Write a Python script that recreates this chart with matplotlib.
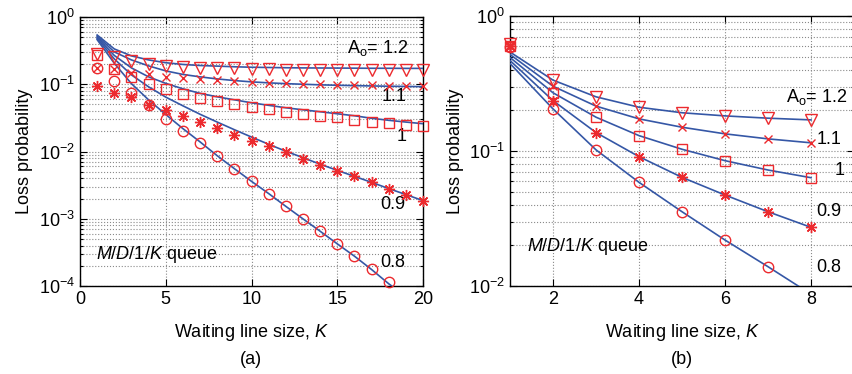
import numpy as np
import matplotlib
matplotlib.use("Agg")
import matplotlib.pyplot as plt
from matplotlib.ticker import LogLocator, LogFormatterMathtext, NullFormatter

plt.rcParams['font.family'] = ['Liberation Sans', 'DejaVu Sans']
plt.rcParams['mathtext.fontset'] = 'custom'
plt.rcParams['mathtext.rm'] = 'Liberation Sans'
plt.rcParams['mathtext.it'] = 'Liberation Sans:italic'
plt.rcParams['mathtext.bf'] = 'Liberation Sans:bold'

# ---------------- Panel (a) data: K = 1..20 ----------------
K_a = list(range(1, 21))
loads = ["1.2", "1.1", "1", "0.9", "0.8"]

# analytic curves (blue lines)
line_a_12 = [0.54, 0.335, 0.264, 0.230, 0.209, 0.197, 0.190, 0.186, 0.182, 0.179,
             0.1775, 0.176, 0.175, 0.1745, 0.174, 0.1734, 0.1728, 0.1728, 0.1722, 0.1722]
line_a_11 = [0.52, 0.3025, 0.230, 0.1875, 0.158, 0.140, 0.1288, 0.120, 0.1135, 0.1085,
             0.1049, 0.1021, 0.100, 0.098, 0.0966, 0.0953, 0.0944, 0.0934, 0.0928, 0.0921]
line_a_10 = [0.50, 0.268, 0.175, 0.1288, 0.1031, 0.0855, 0.0733, 0.065, 0.0587, 0.053,
             0.0486, 0.0447, 0.0417, 0.039, 0.0364, 0.034, 0.0312, 0.0291, 0.0274, 0.0259]
line_a_09 = [0.48, 0.238, 0.1378, 0.0915, 0.0644, 0.0478, 0.0358, 0.0274, 0.0211, 0.0164,
             0.0128, 0.0101, 0.0081, 0.00648, 0.00524, 0.00427, 0.00348, 0.00281, 0.00229, 0.00186]
line_a_08 = [0.46, 0.205, 0.102, 0.0586, 0.0355, 0.0219, 0.0139, 0.00866, 0.00556, 0.0036,
             0.00237, 0.00153, 0.000997, 0.000653, 0.000424, 0.000278, 0.000176, 0.000108, 0.00007, 0.000046]

# simulation points (red markers)
sim_a_12 = [0.278, 0.258, 0.222, 0.201, 0.189, 0.183, 0.177, 0.173, 0.173, 0.169,
            0.166, 0.165, 0.165, 0.164, 0.164, 0.164, 0.164, 0.164, 0.163, 0.163]
sim_a_11 = [0.173, 0.1675, 0.1476, 0.1412, 0.130, 0.1233, 0.119, 0.1162, 0.1123, 0.1086,
            0.106, 0.1038, 0.1014, 0.1014, 0.098, 0.098, 0.097, 0.0956, 0.0947, 0.0947]
sim_a_10 = [0.273, 0.1675, 0.1274, 0.1003, 0.0855, 0.0713, 0.0635, 0.0567, 0.0507, 0.0462,
            0.0427, 0.0386, 0.0355, 0.0336, 0.0321, 0.0296, 0.0277, 0.0261, 0.0247, 0.0236]
sim_a_09 = [0.0947, 0.0753, 0.0639, 0.0486, 0.0417, 0.0343, 0.0274, 0.0223, 0.01776, 0.01446,
            0.01191, 0.0097, 0.00782, 0.00637, 0.00519, 0.00427, 0.00348, 0.00278, 0.00229, 0.00186]
K_a_08 = list(range(1, 19))
sim_a_08 = [0.173, 0.1123, 0.0753, 0.0486, 0.0307, 0.02035, 0.01337, 0.00866, 0.00556, 0.0036,
            0.002365, 0.001533, 0.000997, 0.000653, 0.000424, 0.000278, 0.000176, 0.000114]

# ---------------- Panel (b) data: K = 1..8 ----------------
K_b = list(range(1, 9))
line_b_12 = [0.541, 0.335, 0.252, 0.211, 0.192, 0.182, 0.175, 0.170]
line_b_11 = [0.519, 0.302, 0.215, 0.173, 0.150, 0.134, 0.123, 0.115]
line_b_10 = [0.493, 0.270, 0.178, 0.130, 0.103, 0.0848, 0.0723, 0.0634]
line_b_09 = [0.468, 0.236, 0.137, 0.0908, 0.0638, 0.0472, 0.0355, 0.0272]
line_b_08 = [0.445, 0.205, 0.102, 0.0586, 0.0355, 0.0219, 0.0139, 0.0087]

sim_b_12 = [0.62, 0.336, 0.252, 0.211, 0.192, 0.182, 0.175, 0.170]
sim_b_11 = [0.61, 0.302, 0.215, 0.173, 0.150, 0.134, 0.123, 0.115]
sim_b_10 = [0.60, 0.270, 0.178, 0.130, 0.103, 0.0848, 0.0723, 0.0634]
sim_b_09 = [0.60, 0.236, 0.137, 0.0908, 0.0638, 0.0472, 0.0355, 0.0272]
K_b_08 = list(range(1, 8))
sim_b_08 = [0.59, 0.205, 0.102, 0.0586, 0.0355, 0.0219, 0.0139]

BLUE = '#3557a6'
RED = '#ec2a2e'
FS = 13

fig = plt.figure(figsize=(8.52, 3.74), dpi=100)
ax1 = fig.add_axes([80/852, 88/374, 343/852, 269/374])
ax2 = fig.add_axes([510/852, 88/374, 344/852, 270/374])

asterisk = (8, 2, 0)
mk = dict(linestyle='none', markerfacecolor='none', markeredgecolor=RED, color=RED, clip_on=False)


def style(ax):
    ax.set_yscale('log')
    ax.yaxis.set_major_locator(LogLocator(base=10, numticks=10))
    ax.yaxis.set_minor_locator(LogLocator(base=10, subs=np.arange(2, 10), numticks=20))
    ax.yaxis.set_major_formatter(LogFormatterMathtext())
    ax.yaxis.set_minor_formatter(NullFormatter())
    ax.grid(True, which='major', axis='both', linestyle=':', color='#8a8a8a', linewidth=0.8)
    ax.grid(True, which='minor', axis='y', linestyle=':', color='#8a8a8a', linewidth=0.8)
    ax.tick_params(which='both', direction='in', top=True, right=True, labelsize=FS,
                   width=0.8, color='black')
    ax.tick_params(which='major', length=5)
    ax.tick_params(which='minor', length=2.5)
    for s in ax.spines.values():
        s.set_linewidth(1.0)
    ax.set_axisbelow(True)
    ax.set_ylabel('Loss probability', fontsize=FS)
    ax.set_xlabel('Waiting line size, $K$', fontsize=FS, labelpad=10)


# Panel (a)
for ln in [line_a_12, line_a_11, line_a_10, line_a_09, line_a_08]:
    ax1.plot(K_a, ln, color=BLUE, lw=1.2, zorder=3)
ax1.plot(K_a, sim_a_12, marker='v', markersize=8, markeredgewidth=1.0, zorder=4, **mk)
ax1.plot(K_a, sim_a_11, marker='x', markersize=6, markeredgewidth=1.0, zorder=4, **mk)
ax1.plot(K_a, sim_a_10, marker='s', markersize=7, markeredgewidth=1.0, zorder=4, **mk)
ax1.plot(K_a, sim_a_09, marker=asterisk, markersize=8, markeredgewidth=1.0, zorder=4, **mk)
ax1.plot(K_a_08, sim_a_08, marker='o', markersize=7.5, markeredgewidth=1.0, zorder=4, **mk)
ax1.set_xlim(0, 20)
ax1.set_ylim(1e-4, 1)
ax1.set_xticks([0, 5, 10, 15, 20])
style(ax1)

ax1.text(15.55, 0.347, r'$\mathregular{A_o}$= ' + loads[0], fontsize=FS, ha='left', va='center')
ax1.text(17.6, 0.0657, loads[1], fontsize=FS, ha='left', va='center')
ax1.text(18.47, 0.01675, loads[2], fontsize=FS, ha='left', va='center')
ax1.text(17.5, 0.001625, loads[3], fontsize=FS, ha='left', va='center')
ax1.text(17.5, 0.000224, loads[4], fontsize=FS, ha='left', va='center')
ax1.text(0.92, 0.000294, r'$M$/$D$/1/$K$ queue', fontsize=FS, ha='left', va='center')

# Panel (b)
for ln in [line_b_12, line_b_11, line_b_10, line_b_09, line_b_08]:
    ax2.plot(K_b, ln, color=BLUE, lw=1.2, zorder=3)
ax2.plot(K_b, sim_b_12, marker='v', markersize=8, markeredgewidth=1.0, zorder=4, **mk)
ax2.plot(K_b, sim_b_11, marker='x', markersize=6, markeredgewidth=1.0, zorder=4, **mk)
ax2.plot(K_b, sim_b_10, marker='s', markersize=7, markeredgewidth=1.0, zorder=4, **mk)
ax2.plot(K_b, sim_b_09, marker=asterisk, markersize=8, markeredgewidth=1.0, zorder=4, **mk)
ax2.plot(K_b_08, sim_b_08, marker='o', markersize=7.5, markeredgewidth=1.0, zorder=4, **mk)
ax2.set_xlim(1, 9)
ax2.set_ylim(1e-2, 1)
ax2.set_xticks([2, 4, 6, 8])
style(ax2)

ax2.text(7.42, 0.2524, r'$\mathregular{A_o}$= ' + loads[0], fontsize=FS, ha='left', va='center')
ax2.text(8.13, 0.1207, loads[1], fontsize=FS, ha='left', va='center')
ax2.text(8.56, 0.0723, loads[2], fontsize=FS, ha='left', va='center')
ax2.text(8.13, 0.0355, loads[3], fontsize=FS, ha='left', va='center')
ax2.text(8.13, 0.0136, loads[4], fontsize=FS, ha='left', va='center')
ax2.text(1.39, 0.01955, r'$M$/$D$/1/$K$ queue', fontsize=FS, ha='left', va='center')

fig.text(251/852, 1 - 360/374, '(a)', fontsize=FS, ha='center', va='center')
fig.text(682/852, 1 - 360/374, '(b)', fontsize=FS, ha='center', va='center')

fig.savefig('out.png', dpi=100)
